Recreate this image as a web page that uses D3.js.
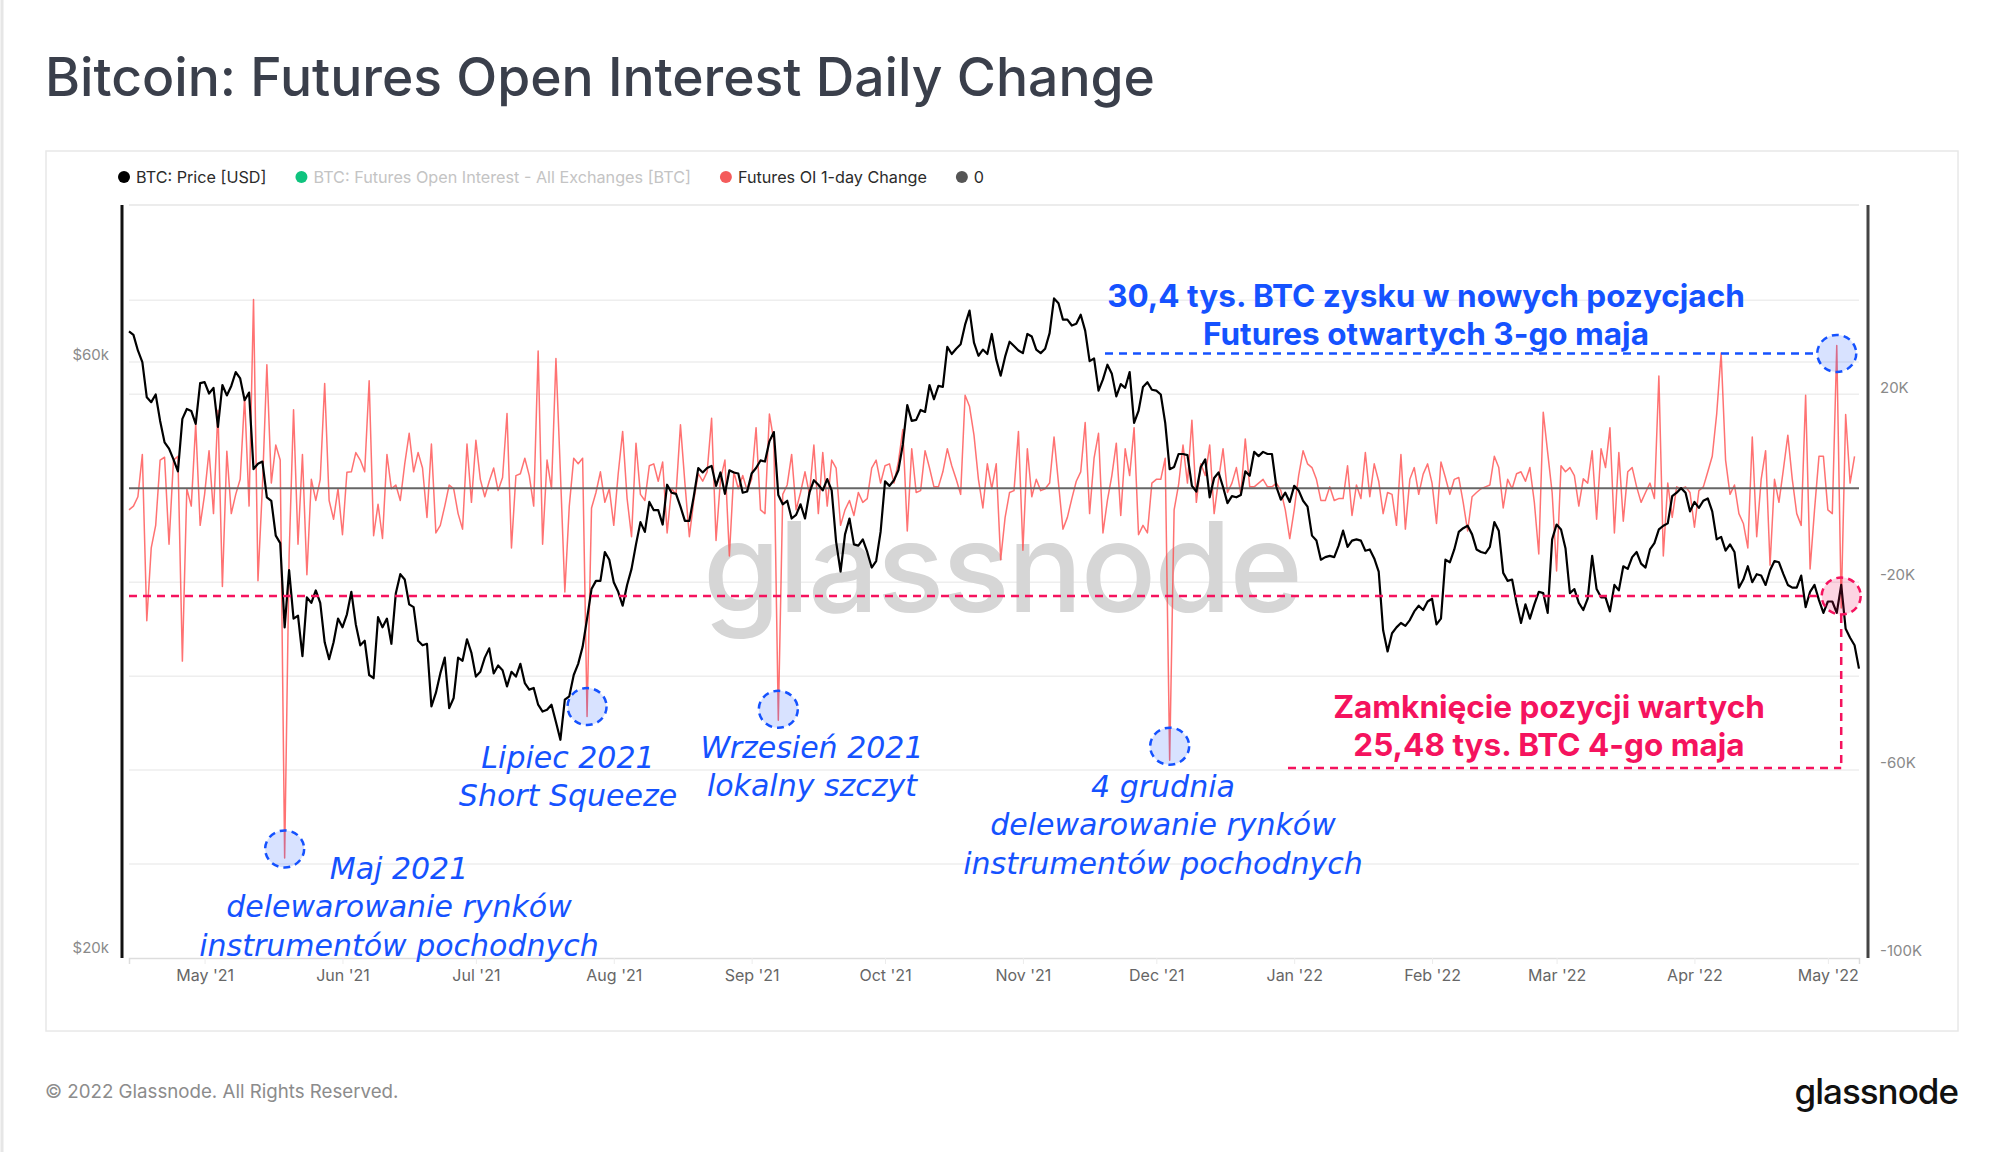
<!DOCTYPE html>
<html>
<head>
<meta charset="utf-8">
<script src="https://cdn.jsdelivr.net/npm/d3@7"></script>
<style>
  html, body { margin: 0; padding: 0; background: #fff; }
  svg { display: block; }
</style>
</head>
<body>
<div id="chart"></div>
<script>
// daily BTC price (thousand USD), from 14 Apr 2021 to 8 May 2022
const btcPriceK = [
  63.5, 63.1, 61.3, 60.0, 56.2, 55.7, 56.5, 53.8, 51.7, 51.1, 50.1, 49.0, 54.0, 55.0, 54.8, 53.5, 57.7,
  57.8, 56.6, 57.2, 53.2, 57.5, 56.4, 57.4, 58.9, 58.2, 55.9, 56.7, 49.2, 49.7, 49.9, 46.7, 46.4, 43.5, 42.9, 36.7, 40.8, 37.3, 37.5, 34.8, 38.8, 38.4, 39.3, 38.4, 35.7, 34.6, 35.7, 37.3,
  36.7, 37.6, 39.2, 36.9, 35.5, 35.8, 33.6, 33.4, 37.4, 36.7, 37.3, 35.6, 39.1, 40.5, 40.1, 38.3, 38.1, 35.8, 35.5, 35.6, 31.7, 32.5, 33.7, 34.7, 31.6, 32.2, 34.7, 34.5, 35.9, 35.0,
  33.5, 33.8, 34.7, 35.3, 33.7, 34.2, 33.9, 32.9, 33.8, 33.5, 34.3, 33.1, 32.7, 32.8, 31.8, 31.4, 31.5, 31.8, 30.8, 29.8, 32.1, 32.3, 33.6, 34.3, 35.4, 37.3, 39.4, 40.0, 40.0, 42.2, 41.6,
  39.9, 39.2, 38.2, 39.7, 40.9, 42.8, 44.6, 43.8, 46.3, 45.6, 45.6, 44.4, 47.8, 47.1, 47.0, 45.9, 44.7, 44.7, 46.8, 49.3, 48.9, 49.3, 49.5, 47.7, 48.9, 47.0, 49.1, 48.9, 48.8, 47.1, 47.2,
  48.8, 49.3, 50.0, 49.9, 51.8, 52.7, 46.9, 46.1, 46.4, 44.9, 45.2, 46.1, 44.9, 47.1, 48.2, 47.8, 47.3, 48.3, 47.3, 43.0, 40.7, 43.6, 44.9, 42.8, 42.7, 43.2, 42.2, 41.0, 41.5, 43.8,
  48.1, 47.7, 48.2, 49.1, 51.5, 55.4, 53.8, 53.9, 54.9, 54.7, 57.5, 56.0, 57.4, 57.3, 61.7, 60.9, 61.5, 62.0, 64.3, 66.0, 62.2, 60.7, 61.4, 60.9, 63.2, 60.3, 58.5, 60.6, 62.3, 61.8, 61.3,
  61.0, 63.2, 62.9, 61.4, 61.0, 61.5, 63.3, 67.5, 66.9, 64.9, 64.9, 64.2, 64.4, 65.5, 63.6, 60.1, 60.4, 56.9, 58.1, 59.7, 58.7, 56.3, 57.6, 57.2, 58.9, 53.6, 54.8, 57.3, 57.8, 57.0,
  56.9, 56.5, 53.6, 49.2, 49.4, 50.6, 50.6, 50.5, 47.7, 47.2, 49.4, 50.1, 46.7, 48.4, 48.9, 47.6, 46.2, 46.8, 46.7, 46.9, 49.0, 48.6, 50.8, 50.4, 50.8, 50.6, 50.6, 47.6, 46.5, 47.1, 46.3,
  47.7, 47.3, 46.4, 45.9, 43.5, 43.1, 41.6, 41.8, 41.9, 41.8, 42.7, 43.9, 42.6, 43.1, 43.2, 43.1, 42.3, 42.4, 41.7, 40.7, 36.5, 35.1, 36.3, 36.7, 37.0, 36.8, 37.2, 37.8, 38.2, 37.9, 38.5,
  38.7, 36.9, 37.3, 41.6, 41.4, 42.4, 43.8, 44.1, 44.3, 43.6, 42.4, 42.2, 42.1, 42.6, 44.6, 43.9, 40.6, 40.0, 40.1, 38.4, 37.0, 38.3, 37.3, 38.3, 39.2, 39.1, 37.7, 43.2,
  44.4, 44.0, 42.5, 39.1, 39.4, 38.4, 37.9, 38.7, 41.9, 39.4, 38.8, 38.8, 37.8, 39.7, 39.3, 41.1, 40.9, 41.8, 42.2, 41.3, 41.0, 42.4, 42.9, 44.0, 44.3, 44.5, 46.8, 47.1, 47.5, 47.1, 45.5,
  46.3, 45.8, 46.4, 46.6, 45.5, 43.2, 43.4, 42.3, 42.8, 42.2, 39.5, 40.1, 41.1, 39.9, 40.5, 40.4, 39.7, 40.8, 41.5, 41.4, 40.5, 39.7, 39.5, 39.5, 40.4, 38.1, 39.2, 39.7, 38.6, 37.7,
  38.5, 38.5, 37.7, 39.7, 36.6, 36.0, 35.5, 34.0
];

// futures OI 1-day change (thousand BTC), from 14 Apr 2021 to 7 May 2022
const oiChangeK = [
  -4.6, -3.8, -1.8, 7.2, -28.2, -12.7, -7.9, 6.0, 6.6, -11.9,
  6.0, 6.8, -36.8, -0.1, -3.8, 13.7, -7.9, -1.3, 8.0, -5.4,
  16.6, -20.9, 7.9, -5.4, -1.3, 1.9, 19.4, -3.8, 40.2, -19.7,
  0.3, 26.3, 1.1, 9.2, 6.0, -78.7, -14.4, 16.7, -11.9, 7.2,
  -18.4, 1.9, -2.6, 1.9, 22.3, -2.6, -6.6, -0.1, -9.9, 3.4,
  3.5, 7.6, 6.0, 3.5, 22.9, -10.1, -3.4, -10.7, 7.2, -0.1,
  0.7, -2.6, 5.2, 11.7, 3.5, 7.6,
  4.3, -6.2, 9.4, -9.5, -7.9, -3.8, 0.7, -0.1, -5.4, -8.7,
  9.4, -3.0, 10.2, 1.9, -1.8, 1.5, 4.3, -0.5, 2.3, 15.9,
  -12.7, 2.7, 3.1, 6.4, 2.7, -3.8, 29.2, -11.9, 6.0, -0.1,
  27.6, 3.5, -22.1, -3.8, 6.4, 5.2, 6.4, -48.6, -4.2, -0.9,
  3.5, -3.0, -0.1, -7.9, 3.1, 12.1, -2.2, -10.3, 9.6, -1.3,
  -2.6, 4.8, 5.2, 1.5, 5.6, -9.5, -0.1, -1.3, 13.5, 1.1,
  -10.3, -2.6, 3.1, 1.5, 3.5,
  14.9, -11.1, 1.9, 6.0, -14.4, 3.5, -0.1, 2.7, -0.5, 1.9,
  12.9, -4.6, -5.4, 15.8, 10.1, -49.4, -1.3, 0.7, 7.2, -4.6,
  -0.9, 3.5, -1.3, 9.2, -5.4, 7.6, -3.8, 6.0, 4.3, -7.9,
  -4.6, -2.6, -5.8, -0.9, -3.0, -2.2, 4.3, 6.0, 1.1, 4.8,
  5.2, 1.1, 5.6, 12.5, -9.1, 8.4, -0.9, -0.5, 8.0, 4.3,
  0.3, 0.3, 3.5, 8.4, 4.8, 1.9, -1.3, 19.8, 17.4, 11.3,
  1.9, -4.2, 5.2, -0.1, 5.2,
  -15.2, -6.2, -0.9, -0.5, 12.1, -13.2, 8.4, -1.8, 1.9, -0.5,
  -0.1, 1.1, 10.9, 1.1, -8.7, -6.2, -2.2, 1.5, 3.5, 14.0,
  -5.4, 6.4, 11.7, -9.5, -2.6, 2.7, 9.6, -5.8, 8.4, 2.7,
  12.9, -9.9, -7.9, -9.5, 1.1, 1.9, 1.9, 6.4, -57.9, -4.6,
  0.7, 9.2, 1.1, 14.5, -3.0, 5.2, 2.7, 9.2, -5.4, 1.9,
  8.4, -0.9, 1.1, 4.4, -1.3, 10.5, 0.3, 0.3, 1.1, 1.9,
  0.3, 0.3, 1.1, -0.5, -4.6,
  -10.7, -4.6, 2.7, 8.0, 5.2, 4.4, 1.9, -2.6, -2.6, 0.3,
  -2.6, -2.2, -2.2, 4.8, -5.8, 0.7, -2.2, 7.6, -1.8, 5.2,
  1.5, -5.4, -0.9, -1.3, -7.9, 7.2, -8.7, 1.9, 4.4, -1.3,
  3.0, 5.2, 1.1, -7.5, 5.6, 2.3, -1.3, 1.9, 2.3, -3.0,
  -9.1, -1.8, -0.9, -0.1, 0.3, 0.7, 6.8, 4.4, -4.2, 1.9,
  -0.1, 3.1, 3.5, 1.5, 4.4, -3.0, -14.0, 16.2, 7.6, -0.9,
  -17.6, 4.8, 3.5, 4.4, 2.7, -3.8,
  2.0, 1.1, 8.0, -6.6, 8.4, 4.4, 12.9, -9.5, 7.6, -7.0,
  3.5, 4.4, 0.3, -3.0, -0.9, 1.1, -2.2, 23.9, -14.4, 1.1,
  -6.2, 0.3, -0.1, 0.3, -0.9, -8.3, -0.5, 0.3, 3.5, 6.8,
  15.8, 28.8, 6.0, -1.3, 0.7, -5.4, -7.5, -12.7, 10.9, -10.3,
  1.9, 8.0, -16.4, 1.9, -3.0, 4.0, 11.3, 1.9, -5.4, -7.9,
  19.8, -17.2, -4.6, 6.8, 6.8, -4.6, -5.4, 30.4, -25.5, 15.7,
  1.1, 6.8
];

const startDay = new Date(Date.UTC(2021, 3, 14));
const priceTicks = [20, 60];
const priceTickLabels = ['$20k', '$60k'];
const oiTicks = [20, -20, -60, -100];
const oiTickLabels = ['20K', '-20K', '-60K', '-100K'];
const oiGrid = [40, 20, -20, -40, -60, -80];

const legendItems = [
  { label: 'BTC: Price [USD]', color: '#000000', muted: false },
  { label: 'BTC: Futures Open Interest - All Exchanges [BTC]', color: '#0fc37e', muted: true },
  { label: 'Futures OI 1-day Change', color: '#f45b5b', muted: false },
  { label: '0', color: '#555555', muted: false }
];

// circled events: date + value of the spike
const events = [
  { date: new Date(Date.UTC(2021, 4, 19)), value: -78.7, dy: -9, kind: 'blue' },
  { date: new Date(Date.UTC(2021, 6, 26)), value: -48.6, dy: -10, kind: 'blue' },
  { date: new Date(Date.UTC(2021, 8, 7)), value: -49.4, dy: -11, kind: 'blue' },
  { date: new Date(Date.UTC(2021, 11, 4)), value: -57.9, dy: -14, kind: 'blue' },
  { date: new Date(Date.UTC(2022, 4, 3)), value: 30.4, dy: 8, kind: 'blue' },
  { date: new Date(Date.UTC(2022, 4, 4)), value: -25.5, dy: -12, kind: 'red' }
];

const notes = [
  { x: 399, y: 879, lines: ['Maj 2021', 'delewarowanie rynków', 'instrumentów pochodnych'], style: 'italic' },
  { x: 568, y: 768, lines: ['Lipiec 2021', 'Short Squeeze'], style: 'italic' },
  { x: 812, y: 758, lines: ['Wrzesień 2021', 'lokalny szczyt'], style: 'italic' },
  { x: 1163, y: 797, lines: ['4 grudnia', 'delewarowanie rynków', 'instrumentów pochodnych'], style: 'italic' },
  { x: 1426, y: 307, lines: ['30,4 tys. BTC zysku w nowych pozycjach', 'Futures otwartych 3-go maja'], style: 'boldBlue' },
  { x: 1549, y: 718, lines: ['Zamknięcie pozycji wartych', '25,48 tys. BTC 4-go maja'], style: 'boldRed' }
];

const W = 2000, H = 1152;
const blue = '#1552ff', red = '#f5135e';
const plot = { left: 129, right: 1859, top: 205, bottom: 958 };

const svg = d3.select('#chart').append('svg').attr('width', W).attr('height', H)
  .style('font-family', 'Inter, "Noto Sans", sans-serif');

svg.append('rect').attr('width', W).attr('height', H).attr('fill', '#fff');
svg.append('line').attr('x1', 2).attr('x2', 2).attr('y1', 0).attr('y2', H)
  .attr('stroke', '#e6e6e6').attr('stroke-width', 3);

// title
svg.append('text').attr('x', 45).attr('y', 96)
  .attr('font-size', 53.4).attr('font-weight', 500).attr('fill', '#3a3f4b')
  .text('Bitcoin: Futures Open Interest Daily Change');

// panel
svg.append('rect').attr('x', 46).attr('y', 151).attr('width', 1912).attr('height', 880)
  .attr('fill', 'none').attr('stroke', '#e8e8e8').attr('stroke-width', 1.5);

// legend
let lx = 124;
legendItems.forEach(it => {
  svg.append('circle').attr('cx', lx).attr('cy', 177).attr('r', 6).attr('fill', it.color);
  const t = svg.append('text').attr('x', lx + 12).attr('y', 177).attr('dy', '0.35em')
    .attr('font-size', 16.2).attr('fill', it.muted ? '#c4c4c4' : '#2b2b2b').text(it.label);
  lx += 12 + t.node().getComputedTextLength() + 35;
});

// scales
const days = btcPriceK.map((_, i) => d3.utcDay.offset(startDay, i));
const x = d3.scaleUtc().domain(d3.extent(days)).range([plot.left, plot.right]);
const yPrice = d3.scaleLog().domain([19.89, 80.26]).range([plot.bottom, plot.top]);
const yOi = d3.scaleLinear().domain([-100, 60.3]).range([plot.bottom, plot.top]);

// grid
const grid = svg.append('g').attr('stroke', '#eeeeee').attr('stroke-width', 1.5);
oiGrid.forEach(v => grid.append('line').attr('x1', plot.left).attr('x2', plot.right)
  .attr('y1', yOi(v)).attr('y2', yOi(v)));
grid.append('line').attr('x1', plot.left).attr('x2', plot.right)
  .attr('y1', yPrice(60)).attr('y2', yPrice(60));
grid.append('line').attr('x1', plot.left).attr('x2', plot.right)
  .attr('y1', plot.top).attr('y2', plot.top).attr('stroke', '#e6e6e6');

// watermark
svg.append('text').attr('x', 1002).attr('y', 612).attr('text-anchor', 'middle')
  .attr('font-size', 125).attr('font-weight', 500).attr('fill', '#d6d6d6')
  .attr('letter-spacing', -2).text('glassnode');

// x axis
const xAxis = svg.append('g').attr('transform', `translate(0,${plot.bottom})`)
  .call(d3.axisBottom(x).ticks(d3.utcMonth.every(1)).tickFormat(d3.utcFormat("%b '%y")).tickSize(6).tickPadding(6));
xAxis.select('.domain').attr('stroke', '#dddddd').attr('stroke-width', 1.5);
xAxis.selectAll('.tick line').attr('stroke', '#ececec');
xAxis.selectAll('.tick text').attr('fill', '#666').attr('font-size', 16).attr('font-family', 'Inter, sans-serif');

// left axis (price, log)
svg.append('line').attr('x1', 122).attr('x2', 122).attr('y1', plot.top).attr('y2', plot.bottom)
  .attr('stroke', '#111').attr('stroke-width', 3);
priceTicks.forEach((v, i) => svg.append('text').attr('x', 109).attr('y', yPrice(v) - 7).attr('dy', '0.35em')
  .attr('text-anchor', 'end').attr('font-size', 15).attr('fill', '#8a8a8a').text(priceTickLabels[i]));

// right axis (OI change)
svg.append('line').attr('x1', 1868).attr('x2', 1868).attr('y1', plot.top).attr('y2', plot.bottom)
  .attr('stroke', '#444').attr('stroke-width', 3);
oiTicks.forEach((v, i) => svg.append('text').attr('x', 1880).attr('y', yOi(v) - 7).attr('dy', '0.35em')
  .attr('font-size', 15).attr('fill', '#8a8a8a').text(oiTickLabels[i]));

// series
const oiLine = d3.line().x((d, i) => x(days[i])).y(d => yOi(d));
svg.append('path').datum(oiChangeK).attr('d', oiLine)
  .attr('fill', 'none').attr('stroke', '#ff4a4a').attr('stroke-opacity', 0.78).attr('stroke-width', 1.5)
  .attr('stroke-linejoin', 'round');

svg.append('line').attr('x1', plot.left).attr('x2', plot.right).attr('y1', yOi(0)).attr('y2', yOi(0))
  .attr('stroke', '#666').attr('stroke-width', 2);

const priceLine = d3.line().x((d, i) => x(days[i])).y(d => yPrice(d));
svg.append('path').datum(btcPriceK).attr('d', priceLine)
  .attr('fill', 'none').attr('stroke', '#000').attr('stroke-width', 2.2).attr('stroke-linejoin', 'round');

// annotation guides
const ev = events.map(e => ({ ...e, cx: x(e.date), cy: yOi(e.value) + e.dy }));
const up = ev[4], down = ev[5];
const dash = '8,6';
svg.append('line').attr('x1', 1105).attr('x2', up.cx - 19).attr('y1', up.cy).attr('y2', up.cy)
  .attr('stroke', blue).attr('stroke-width', 2.5).attr('stroke-dasharray', dash);
svg.append('line').attr('x1', plot.left).attr('x2', down.cx - 19).attr('y1', down.cy).attr('y2', down.cy)
  .attr('stroke', red).attr('stroke-width', 2.5).attr('stroke-dasharray', dash);
svg.append('line').attr('x1', down.cx).attr('x2', down.cx).attr('y1', down.cy + 19).attr('y2', 768)
  .attr('stroke', red).attr('stroke-width', 2.5).attr('stroke-dasharray', dash);
svg.append('line').attr('x1', 1288).attr('x2', down.cx).attr('y1', 768).attr('y2', 768)
  .attr('stroke', red).attr('stroke-width', 2.5).attr('stroke-dasharray', dash);

ev.forEach(e => {
  const c = e.kind === 'red' ? red : blue;
  svg.append('ellipse').attr('cx', e.cx).attr('cy', e.cy).attr('rx', 19.5).attr('ry', 18.5)
    .attr('fill', e.kind === 'red' ? 'rgba(245,19,94,0.18)' : 'rgba(21,82,255,0.17)')
    .attr('stroke', c).attr('stroke-width', 2.5).attr('stroke-dasharray', '7,5');
});

// annotation texts, one <text> per line
notes.forEach(n => {
  n.lines.forEach((s, i) => {
    const t = svg.append('text').attr('text-anchor', 'middle')
      .attr('x', n.x).attr('y', n.y + i * 38.3).text(s);
    if (n.style === 'italic') {
      t.attr('font-family', '"DejaVu Sans", sans-serif').attr('font-style', 'italic')
        .attr('font-size', 30).attr('fill', blue);
    } else {
      t.attr('font-family', 'Inter, sans-serif').attr('font-weight', 700)
        .attr('font-size', 31.5).attr('fill', n.style === 'boldRed' ? red : blue);
    }
  });
});

// footer
svg.append('text').attr('x', 45).attr('y', 1098).attr('font-size', 18.7).attr('fill', '#8c8c8c')
  .text('© 2022 Glassnode. All Rights Reserved.');
svg.append('text').attr('x', 1958).attr('y', 1104).attr('text-anchor', 'end')
  .attr('font-size', 35).attr('font-weight', 500).attr('fill', '#111').attr('letter-spacing', -1)
  .text('glassnode');
</script>
</body>
</html>
